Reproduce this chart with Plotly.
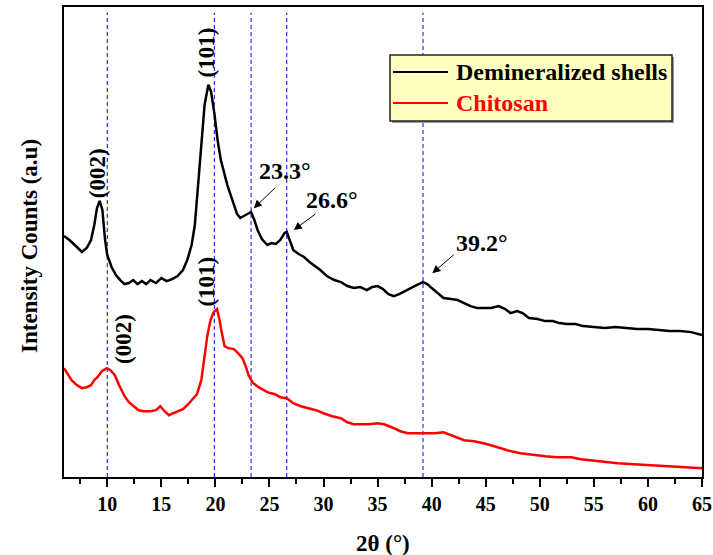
import plotly.graph_objects as go

# XRD patterns (2theta in degrees, intensity in arbitrary units)
shells_2theta = [6.0, 6.5, 7.0, 7.66, 8.1, 8.5, 8.8, 9.05, 9.3, 9.55, 9.8, 10.0, 10.4, 10.8, 11.2,
                 11.6, 12.0, 12.4, 12.8, 13.2, 13.6, 14.0, 14.5, 15.0, 15.5, 16.0, 16.5, 17.0, 17.4,
                 17.8, 18.1, 18.4, 18.7, 19.0, 19.35, 19.6, 19.9, 20.2, 20.5, 20.8, 21.1, 21.5, 22.0,
                 22.3, 23.0, 23.3, 23.6, 23.9, 24.3, 24.8, 25.2, 25.6, 26.0, 26.4, 26.6, 26.9, 27.2,
                 27.7, 28.2, 28.7, 29.2, 29.7, 30.3, 31.0, 31.6, 32.2, 32.8, 33.4, 34.0, 34.5, 35.0,
                 35.5, 36.0, 36.5, 37.0, 37.5, 38.0, 38.6, 39.2, 39.6, 40.0, 40.6, 41.1, 41.8, 42.4,
                 43.0, 43.6, 44.2, 44.8, 45.5, 46.2, 46.8, 47.3, 47.9, 48.4, 49.0, 49.8, 50.5, 51.2,
                 51.8, 52.5, 53.3, 54.0, 55.0, 56.0, 57.0, 58.0, 59.0, 60.0, 61.0, 62.0, 63.0, 64.0,
                 65.0]
shells_counts = [241, 237, 232, 225, 229, 237, 252, 269, 276, 267, 237, 222, 210, 202, 197,
                 193, 194, 197, 193, 196, 193, 197, 194, 199, 196, 198, 201, 207, 217,
                 232, 252, 292, 337, 372, 392, 385, 364, 337, 317, 305, 292, 279, 263,
                 259, 263, 265, 257, 247, 238, 232, 234, 233, 237, 244, 245, 237, 227,
                 223, 220, 215, 211, 207, 201, 197, 195, 191, 189, 190, 187, 190, 191,
                 188, 183, 181, 183, 186, 189, 192, 195, 193, 189, 183, 179, 178, 177,
                 174, 171, 169, 169, 169, 171, 168, 164, 166, 164, 159, 158, 156, 156,
                 154, 153, 153, 151, 150, 149, 150, 149, 148, 148, 147, 146, 146, 145,
                 142]

chitosan_2theta = [6.0, 6.3, 6.7, 7.2, 7.66, 8.1, 8.5, 8.8, 9.1, 9.5, 9.97, 10.3, 10.7, 11.1, 11.6,
                   12.0, 12.4, 12.9, 13.4, 14.0, 14.5, 14.9, 15.3, 15.7, 16.1, 16.5, 17.0, 17.4,
                   17.9, 18.3, 18.7, 19.0, 19.25, 19.55, 19.85, 20.15, 20.35, 20.6, 20.85, 21.2,
                   21.7, 22.1, 22.5, 22.8, 23.1, 23.5, 24.0, 24.8, 25.5, 26.0, 26.6, 27.2, 27.9,
                   28.6, 29.3, 30.0, 30.8, 31.6, 32.2, 32.8, 33.5, 34.2, 35.0, 35.6, 36.3, 37.1,
                   37.8, 38.7, 39.5, 40.3, 41.1, 42.0, 43.0, 43.9, 44.8, 45.8, 47.0, 48.2, 49.5,
                   50.5, 51.6, 52.9, 53.8, 54.7, 56.0, 57.2, 58.7, 60.3, 61.8, 63.4, 65.0]
chitosan_counts = [109, 104, 97, 92, 89, 90, 92, 97, 100, 106, 109, 107, 102, 92, 81,
                   75, 71, 67, 66, 66, 67, 71, 66, 62, 64, 66, 68, 72,
                   78, 83, 97, 122, 141, 157, 165, 168, 159, 144, 131, 129,
                   128, 124, 119, 111, 101, 94, 90, 85, 83, 80, 79, 74, 71,
                   69, 67, 64, 61, 59, 55, 53, 53, 53, 54, 53, 50, 46,
                   44, 44, 44, 44, 45, 41, 37, 36, 34, 31, 27, 24, 22,
                   21, 20, 20, 18, 17, 15, 14, 13, 12, 11, 10, 9]

ref_lines = [10.0, 19.9, 23.3, 26.6, 39.2]

FONT = "Liberation Serif, Times New Roman, serif"
W, H = 713, 555
L, R, T, B = 64, 11, 7, 78
PW, PH = W - L - R, H - T - B


def px(x, y):
    """pixel position -> paper coords"""
    return (x - L) / PW, (H - B - y) / PH


fig = go.Figure()
fig.add_trace(go.Scatter(x=shells_2theta, y=shells_counts, mode="lines",
                         name="Demineralized shells", line=dict(color="black", width=2.5),
                         showlegend=False))
fig.add_trace(go.Scatter(x=chitosan_2theta, y=chitosan_counts, mode="lines",
                         name="Chitosan", line=dict(color="red", width=2.5), showlegend=False))

for xv in ref_lines:
    fig.add_shape(type="line", x0=xv, x1=xv, xref="x", yref="paper", y0=0, y1=0.988,
                  line=dict(color="blue", width=1, dash="4px,3px"), layer="below")

# legend box (drawn by hand to match the original)
x0, y1 = px(392, 57)
x1, y0 = px(674, 123)
fig.add_shape(type="rect", xref="paper", yref="paper", x0=x0, x1=x1, y0=y0, y1=y1,
              fillcolor="#9a9a9a", line=dict(width=0), layer="above")
x0, y1 = px(390, 55)
x1, y0 = px(672, 121)
fig.add_shape(type="rect", xref="paper", yref="paper", x0=x0, x1=x1, y0=y0, y1=y1,
              fillcolor="#FFFFC0", line=dict(color="#222", width=1.5), layer="above")
for name, color, ypix in [("Demineralized shells", "black", 72), ("Chitosan", "red", 103)]:
    a, b = px(393, ypix)
    c, _ = px(448, ypix)
    fig.add_shape(type="line", xref="paper", yref="paper", x0=a, x1=c, y0=b, y1=b,
                  line=dict(color=color, width=2), layer="above")
    tx, ty = px(454, ypix)
    fig.add_annotation(xref="paper", yref="paper", x=tx, y=ty, xanchor="left", yanchor="middle",
                       text=name, showarrow=False,
                       font=dict(family=FONT, size=24, color=color, weight="bold"))

lab = dict(family=FONT, size=23, color="black", weight="bold")
# hkl labels
fig.add_annotation(x=9.17, y=304, text="(002)", textangle=-90, showarrow=False, font=lab)
fig.add_annotation(x=19.2, y=424, text="(101)", textangle=-90, showarrow=False, font=lab)
fig.add_annotation(x=11.44, y=138, text="(002)", textangle=-90, showarrow=False, font=lab)
fig.add_annotation(x=19.18, y=195, text="(101)", textangle=-90, showarrow=False, font=lab)

# peak position labels with arrows
peaks = [("23.3°", 26.4, 306, 23.55, 268.7, 23, -22),
         ("26.6°", 30.8, 277, 27.25, 247, 23, -17),
         ("39.2°", 44.7, 234, 40.06, 203.7, 23, -20)]
for txt, tx, ty, hx, hy, ax, ay in peaks:
    fig.add_annotation(x=tx, y=ty, text=txt, showarrow=False, font=dict(lab, size=24))
    fig.add_annotation(x=hx, y=hy, ax=ax, ay=ay, text="", showarrow=True,
                       arrowhead=2, arrowsize=1.6, arrowwidth=1, arrowcolor="black")

# axis titles
tx, ty = px(383, 543)
fig.add_annotation(xref="paper", yref="paper", x=tx, y=ty, xanchor="center", yanchor="middle",
                   text="2θ (°)", showarrow=False,
                   font=dict(family=FONT, size=23, color="black", weight="bold"))
tx, ty = px(29, 246)
fig.add_annotation(xref="paper", yref="paper", x=tx, y=ty, xanchor="center", yanchor="middle",
                   text="Intensity Counts (a.u)", textangle=-90, showarrow=False,
                   font=dict(family=FONT, size=23, color="black", weight="bold"))

fig.update_layout(
    width=W, height=H,
    margin=dict(l=L, r=R, t=T, b=B),
    paper_bgcolor="white", plot_bgcolor="white",
    font=dict(family=FONT, color="black"),
    showlegend=False,
    xaxis=dict(range=[6, 65], tick0=0, dtick=5, ticks="outside", ticklen=8, tickwidth=1.5,
               tickcolor="black", showline=True, linecolor="black", linewidth=2, mirror=True,
               showgrid=False, zeroline=False, automargin=False,
               tickfont=dict(family=FONT, size=20, color="black", weight="bold"),
               minor=dict(dtick=2.5, ticks="outside", ticklen=5, tickwidth=1.5, tickcolor="black")),
    yaxis=dict(range=[0.3, 469.7], showticklabels=False, ticks="", showline=True,
               linecolor="black", linewidth=2, mirror=True, showgrid=False, zeroline=False,
               automargin=False),
)

fig.write_html("out.html", config={"displayModeBar": False},
               post_script="document.body.style.margin='0';")
